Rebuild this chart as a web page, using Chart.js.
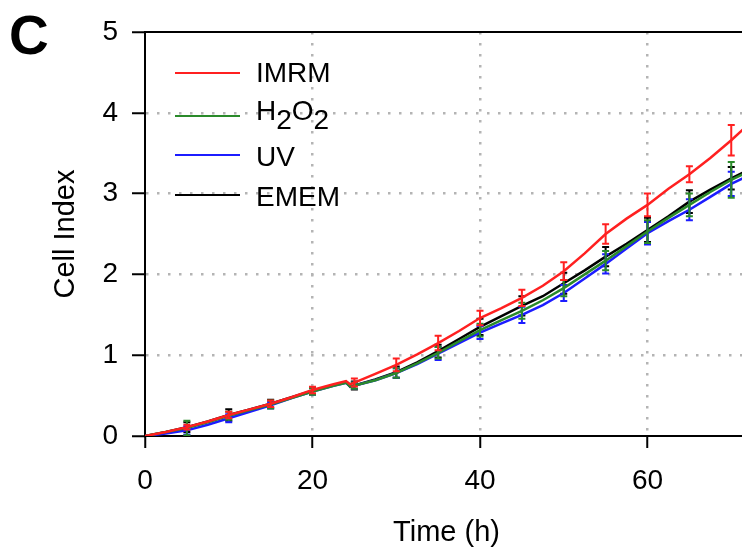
<!DOCTYPE html>
<html>
<head>
<meta charset="utf-8">
<script src="https://cdn.jsdelivr.net/npm/chart.js@4/dist/chart.umd.min.js"></script>
<style>
  html, body { margin: 0; padding: 0; background: #fff; overflow: hidden; }
  #wrap { position: absolute; left: 0; top: 0; width: 760px; height: 550px; }
  #panel { position: absolute; left: 9px; top: 3px; font: bold 55px "Liberation Sans", Arial, sans-serif; color: #000; }
  .leg-line { position: absolute; left: 175px; width: 65px; height: 2px; }
  .leg-text { position: absolute; left: 256px; font: 28px/28px "Liberation Sans", Arial, sans-serif; color: #000; white-space: nowrap; }
  .leg-text .sub { position: relative; top: 9px; }
</style>
</head>
<body>
<div id="wrap"><canvas id="chart"></canvas></div>
<div id="panel">C</div>
<div class="leg-line" style="top:72px;background:#ff2020"></div>
<div class="leg-text" style="top:59px">IMRM</div>
<div class="leg-line" style="top:115px;background:#2a8a2a"></div>
<div class="leg-text" style="top:97px">H<span class="sub">2</span>O<span class="sub">2</span></div>
<div class="leg-line" style="top:154px;background:#1c1cff"></div>
<div class="leg-text" style="top:143px">UV</div>
<div class="leg-line" style="top:194px;background:#000"></div>
<div class="leg-text" style="top:183px">EMEM</div>
<script>
// time points (h)
const hours = [0, 2.5, 5, 7.5, 10, 12.5, 15, 17.5, 20, 22.5, 24, 24.5, 27.5, 30, 32.5, 35, 37.5, 40,
  42.5, 45, 47.5, 50, 52.5, 55, 57.5, 60, 62.5, 65, 67.5, 70, 72];

// cell index per series
const imrm = [0, 0.05, 0.11, 0.18, 0.26, 0.33, 0.40, 0.48, 0.57, 0.64, 0.68, 0.64, 0.77, 0.88, 1.01, 1.15, 1.30, 1.46,
  1.58, 1.71, 1.86, 2.04, 2.26, 2.50, 2.69, 2.86, 3.06, 3.24, 3.44, 3.66, 3.85];
const h2o2 = [0, 0.05, 0.10, 0.17, 0.25, 0.32, 0.39, 0.47, 0.55, 0.62, 0.66, 0.61, 0.69, 0.78, 0.90, 1.03, 1.17, 1.31,
  1.43, 1.55, 1.68, 1.83, 2.00, 2.17, 2.35, 2.53, 2.70, 2.86, 3.02, 3.17, 3.27];
const uv = [0, 0.03, 0.07, 0.14, 0.22, 0.30, 0.38, 0.47, 0.55, 0.62, 0.66, 0.61, 0.69, 0.78, 0.89, 1.02, 1.15, 1.28,
  1.39, 1.50, 1.62, 1.77, 1.95, 2.13, 2.32, 2.51, 2.66, 2.80, 2.96, 3.12, 3.22];
const emem = [0, 0.05, 0.11, 0.18, 0.26, 0.33, 0.40, 0.48, 0.56, 0.63, 0.67, 0.61, 0.70, 0.79, 0.91, 1.05, 1.20, 1.35,
  1.48, 1.61, 1.73, 1.89, 2.05, 2.22, 2.38, 2.55, 2.72, 2.90, 3.05, 3.19, 3.29];

// error bars (half height) at these hours
const errHours = [5, 10, 15, 20, 25, 30, 35, 40, 45, 50, 55, 60, 65, 70];
const imrmErr = [0.03, 0.04, 0.04, 0.04, 0.05, 0.08, 0.09, 0.09, 0.10, 0.11, 0.12, 0.14, 0.10, 0.19];
const h2o2Err = [0.09, 0.05, 0.05, 0.04, 0.04, 0.06, 0.07, 0.08, 0.10, 0.10, 0.12, 0.14, 0.14, 0.22];
const uvErr = [0.05, 0.05, 0.04, 0.04, 0.04, 0.06, 0.08, 0.08, 0.10, 0.10, 0.12, 0.14, 0.13, 0.15];
const ememErr = [0.06, 0.07, 0.05, 0.04, 0.05, 0.07, 0.08, 0.10, 0.12, 0.13, 0.12, 0.15, 0.14, 0.14];

const xTicks = [0, 20, 40, 60];
const yTicks = [0, 1, 2, 3, 4, 5];

const FONT = '"Liberation Sans", Arial, sans-serif';

function toPoints(vals) {
  return hours.map((h, i) => ({ x: h, y: vals[i] }));
}

function makeSet(label, vals, errs, color) {
  return {
    label,
    data: toPoints(vals),
    errs,
    borderColor: color,
    backgroundColor: color,
    borderWidth: 2.5,
    pointRadius: 0,
    tension: 0
  };
}

// value on a series line at time t (linear between listed points)
function valueAt(data, t) {
  for (let i = 1; i < data.length; i++) {
    if (t <= data[i].x) {
      const a = data[i - 1], b = data[i];
      return a.y + (b.y - a.y) * (t - a.x) / (b.x - a.x);
    }
  }
  return data[data.length - 1].y;
}

const errorBars = {
  id: 'errorBars',
  afterDatasetDraw(chart, args) {
    const ds = chart.data.datasets[args.index];
    const xs = chart.scales.x, ys = chart.scales.y;
    const ctx = chart.ctx;
    ctx.save();
    ctx.beginPath();
    ctx.rect(chart.chartArea.left, chart.chartArea.top - 10, chart.chartArea.width, chart.chartArea.height + 10);
    ctx.clip();
    ctx.strokeStyle = ds.borderColor;
    ctx.lineWidth = 2;
    errHours.forEach((t, j) => {
      const v = valueAt(ds.data, t);
      const px = xs.getPixelForValue(t);
      const top = ys.getPixelForValue(v + ds.errs[j]);
      const bot = ys.getPixelForValue(Math.max(0, v - ds.errs[j]));
      ctx.beginPath();
      ctx.moveTo(px, top); ctx.lineTo(px, bot);
      ctx.moveTo(px - 3.5, top); ctx.lineTo(px + 3.5, top);
      ctx.moveTo(px - 3.5, bot); ctx.lineTo(px + 3.5, bot);
      ctx.stroke();
    });
    ctx.restore();
  }
};

const topFrame = {
  id: 'topFrame',
  afterDraw(chart) {
    const { ctx, chartArea } = chart;
    ctx.save();
    ctx.strokeStyle = '#000';
    ctx.lineWidth = 2;
    ctx.beginPath();
    ctx.moveTo(chartArea.left, chartArea.top);
    ctx.lineTo(chartArea.right, chartArea.top);
    ctx.stroke();
    ctx.restore();
  }
};

const dotted = (edges) => (c) => edges.includes(c.tick.value) ? 'rgba(0,0,0,0)' : '#b4b4b4';

new Chart(document.getElementById('chart'), {
  type: 'line',
  data: {
    datasets: [
      makeSet('IMRM', imrm, imrmErr, '#ff2020'),
      makeSet('H2O2', h2o2, h2o2Err, '#2a8a2a'),
      makeSet('UV', uv, uvErr, '#1c1cff'),
      makeSet('EMEM', emem, ememErr, '#000000')
    ]
  },
  options: {
    responsive: true,
    maintainAspectRatio: false,
    animation: false,
    layout: { padding: { top: 32, right: 12, left: 0, bottom: 0 } },
    plugins: { legend: { display: false }, tooltip: { enabled: false } },
    scales: {
      x: {
        type: 'linear',
        min: 0,
        max: 72,
        afterBuildTicks: (s) => { s.ticks = xTicks.map(v => ({ value: v })); },
        afterFit: (s) => { s.height = 114; },
        border: { color: '#000', width: 2, dash: [2.5, 8.5] },
        grid: {
          color: dotted([0]),
          lineWidth: 2.5,
          tickColor: '#000',
          tickWidth: 2,
          tickLength: 12,
          tickBorderDash: []
        },
        ticks: { color: '#000', font: { family: FONT, size: 28 }, padding: 16, maxRotation: 0 },
        title: { display: true, text: 'Time (h)', color: '#000', font: { family: FONT, size: 29 }, padding: { top: 4, bottom: 0 } }
      },
      y: {
        min: 0,
        max: 5,
        afterBuildTicks: (s) => { s.ticks = yTicks.map(v => ({ value: v })); },
        afterFit: (s) => { s.width = 145; },
        border: { color: '#000', width: 2, dash: [2.5, 8.5] },
        grid: {
          color: dotted([0, 5]),
          lineWidth: 2.5,
          tickColor: '#000',
          tickWidth: 2,
          tickLength: 13,
          tickBorderDash: []
        },
        ticks: { color: '#000', font: { family: FONT, size: 28 }, padding: 14 },
        title: { display: true, text: 'Cell Index', color: '#000', font: { family: FONT, size: 29 }, padding: { top: 49, bottom: 0 } }
      }
    }
  },
  plugins: [errorBars, topFrame]
});
</script>
</body>
</html>
